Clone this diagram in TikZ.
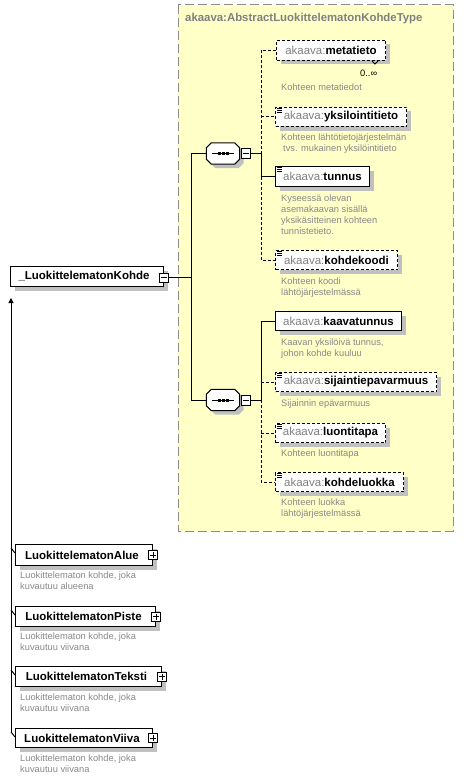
\documentclass[tikz,border=0pt]{standalone}
\usepackage{fontspec}
\setmainfont{Liberation Sans}
\usetikzlibrary{shadows,calc,arrows.meta}
\definecolor{ybg}{RGB}{255,255,200}
\definecolor{ybd}{RGB}{140,140,140}
\definecolor{pref}{RGB}{128,128,128}
\definecolor{desccol}{RGB}{136,136,136}
\definecolor{shad}{RGB}{192,192,192}
\newcommand{\pfx}[1]{{\color{pref}#1}}
\newcommand{\octpath}[3]{($(#1.north west)+(5+#2,#3)$) -- ($(#1.north east)+(-5+#2,#3)$) -- ($(#1.north east)+(#2,5+#3)$) -- ($(#1.south east)+(#2,-5+#3)$) -- ($(#1.south east)+(-5+#2,#3)$) -- ($(#1.south west)+(5+#2,#3)$) -- ($(#1.south west)+(#2,-5+#3)$) -- ($(#1.north west)+(#2,5+#3)$) -- cycle}
\tikzset{
  elem/.style={draw=black, line width=1pt, fill=white, anchor=north west, inner sep=0pt,
    font=\fontsize{11.5}{13}\selectfont,
    drop shadow={shadow xshift=4pt, shadow yshift=-4pt, fill=shad, opacity=1}},
  opt/.style={dash pattern=on 3pt off 2pt},
  optline/.style={line width=1pt, dash pattern=on 3pt off 2pt},
  conn/.style={line width=1pt},
  desc/.style={anchor=north west, inner sep=0pt, align=left, text=desccol,
    font=\fontsize{9.3}{11}\selectfont},
  seqnode/.style={shape=rectangle, minimum width=33pt, minimum height=21pt, inner sep=0pt},
  seqline/.style={draw=black, line width=1pt, fill=white},
  pmbox/.style={draw=black, line width=1pt, fill=white, minimum width=9pt,
    minimum height=9pt, inner sep=0pt},
  titlestyle/.style={anchor=west, inner sep=0pt, text=pref,
    font=\fontsize{11.4}{13}\selectfont\bfseries},
}
\begin{document}
\begin{tikzpicture}[x=1pt,y=-1pt]
\useasboundingbox (0,0) rectangle (476,781);
% type area
\draw[fill=ybg, draw=ybd, line width=1pt, dash pattern=on 9pt off 4pt] (178,5) rectangle (453,531);
\node[titlestyle] (title) at (185,19) {akaava:AbstractLuokittelematonKohdeType};

% elements of the first sequence
\node[elem, opt, minimum width=109pt, minimum height=20pt] (meta) at (276,40) {\pfx{akaava:}\textbf{metatieto}};
\node[elem, opt, minimum width=131pt, minimum height=19pt] (yks) at (275,107) {\pfx{akaava:}\textbf{yksilointitieto}};
\node[elem, minimum width=94pt, minimum height=20pt] (tun) at (275,166) {\pfx{akaava:}\textbf{tunnus}};
\node[elem, opt, minimum width=122pt, minimum height=19pt] (kk) at (275,250) {\pfx{akaava:}\textbf{kohdekoodi}};
% elements of the second sequence
\node[elem, minimum width=126pt, minimum height=19pt] (kt) at (275,311) {\pfx{akaava:}\textbf{kaavatunnus}};
\node[elem, opt, minimum width=161pt, minimum height=19pt] (sij) at (275,372) {\pfx{akaava:}\textbf{sijaintiepavarmuus}};
\node[elem, opt, minimum width=110pt, minimum height=19pt] (luo) at (275,423) {\pfx{akaava:}\textbf{luontitapa}};
\node[elem, opt, minimum width=128pt, minimum height=19pt] (kl) at (275,472) {\pfx{akaava:}\textbf{kohdeluokka}};

% simple-content icons
\foreach \n in {yks,tun,kk,sij,luo,kl}{
  \foreach \d in {1.5,3.5,5.5}
    \draw[line width=0.8pt] ($(\n.north west)+(2,\d)$) -- ++(5,0);
}

% multiplicity
\node[anchor=west, inner sep=0pt, font=\fontsize{9.3}{11}\selectfont] (mult) at (360,73) {0..\char"221E};
\draw[line width=0.8pt] (372,61) -- (375,64) -- (378,61);

% descriptions
\node[desc] (dmeta) at (281,84) {Kohteen metatiedot};
\node[desc] (dyks) at (281,134) {Kohteen lähtötietojärjestelmän\\\hspace*{2pt}tvs. mukainen yksilöintitieto};
\node[desc] (dtun) at (281,195) {Kyseessä olevan\\asemakaavan sisällä\\yksikäsitteinen kohteen\\tunnistetieto.};
\node[desc] (dkk) at (281,278) {Kohteen koodi\\lähtöjärjestelmässä};
\node[desc] (dkt) at (281,339) {Kaavan yksilöivä tunnus,\\johon kohde kuuluu};
\node[desc] (dsij) at (281,400) {Sijainnin epävarmuus};
\node[desc] (dluo) at (281,450) {Kohteen luontitapa};
\node[desc] (dkl) at (281,499) {Kohteen luokka\\lähtöjärjestelmässä};

% sequences
\node[seqnode] (s1) at (223,153.5) {};
\node[seqnode] (s2) at (223,400) {};
\foreach \s in {s1,s2}{
  \fill[shad] \octpath{\s}{4}{4};
  \path[seqline] \octpath{\s}{0}{0};
  \draw[line width=1pt] ($(\s.center)+(-11,0)$) -- ($(\s.center)+(11,0)$);
  \foreach \dx in {-5,-1,3}
    \fill ($(\s.center)+(\dx,-1.5)$) rectangle ++(2.6,3);
}
\node[pmbox, minimum height=10pt, anchor=west] (m1) at ([xshift=1.5pt]s1.east) {};
\node[pmbox, minimum height=10pt, anchor=west] (m2) at ([xshift=1.5pt]s2.east) {};
\foreach \m in {m1,m2}
  \draw[line width=1pt] ([xshift=2pt]\m.west) -- ([xshift=-2pt]\m.east);

% main element
\node[elem, minimum width=153pt, minimum height=20pt] (main) at (10,266) {\textbf{\_LuokittelematonKohde}\kern6pt};
\node[pmbox] (mm) at ([xshift=-0.5pt,yshift=-1pt]main.east) {};
\draw[line width=1pt] ([xshift=2pt]mm.west) -- ([xshift=-2pt]mm.east);

% trunk coordinates
\coordinate (tr) at (191,0);
\coordinate (b1) at (261,0);

% connectors main -> sequences
\draw[conn] (mm.east) -- (mm.east -| tr);
\draw[conn] (s1.west) -- (s1.west -| tr) -- (s2.west -| tr) -- (s2.west);
% sequence 1
\draw[conn] (m1.east) -- (m1.east -| b1);
\draw[optline] (m1.east -| b1) -- (meta.west -| b1) -- (meta.west);
\draw[optline] (yks.west -| b1) -- (yks.west);
\draw[conn] (m1.east -| b1) -- (tun.west -| b1) -- (tun.west);
\draw[optline] (tun.west -| b1) -- (kk.west -| b1) -- (kk.west);
% sequence 2
\draw[conn] (m2.east) -- (m2.east -| b1);
\draw[conn] (m2.east -| b1) -- (kt.west -| b1) -- (kt.west);
\draw[optline] (m2.east -| b1) -- (kl.west -| b1) -- (kl.west);
\draw[optline] (sij.west -| b1) -- (sij.west);
\draw[optline] (luo.west -| b1) -- (luo.west);

% derived types
\node[elem, minimum width=137pt, minimum height=21pt] (alue) at (15,544) {\textbf{LuokittelematonAlue}\kern4pt};
\node[elem, minimum width=140pt, minimum height=20pt] (piste) at (15,606) {\textbf{LuokittelematonPiste}\kern4pt};
\node[elem, minimum width=146pt, minimum height=20pt] (teksti) at (15,666) {\textbf{LuokittelematonTeksti}\kern4pt};
\node[elem, minimum width=137pt, minimum height=19pt] (viiva) at (15,728) {\textbf{LuokittelematonViiva}\kern4pt};
\foreach \n in {alue,piste,teksti,viiva}{
  \node[pmbox] (p\n) at (\n.east) {};
  \draw[line width=1pt] ([xshift=2pt]p\n.west) -- ([xshift=-2pt]p\n.east);
  \draw[line width=1pt] ([yshift=2pt]p\n.south) -- ([yshift=-2pt]p\n.north);
  \draw[conn] ($(\n.north west)+(-4,4)$) -- ($(\n.north west)+(0,9)$);
}
\coordinate (tip) at ($(main.south west)+(1,11)$);
\draw[conn, -{Triangle[length=5pt,width=5pt]}] ($(viiva.north west)+(-4,4.5)$) -- (tip);

\node[desc] (dalue) at (20,572) {Luokittelematon kohde, joka\\kuvautuu alueena};
\node[desc] (dpiste) at (20,633) {Luokittelematon kohde, joka\\kuvautuu viivana};
\node[desc] (dteksti) at (20,694) {Luokittelematon kohde, joka\\kuvautuu viivana};
\node[desc] (dviiva) at (20,755) {Luokittelematon kohde, joka\\kuvautuu viivana};
\end{tikzpicture}
\end{document}
